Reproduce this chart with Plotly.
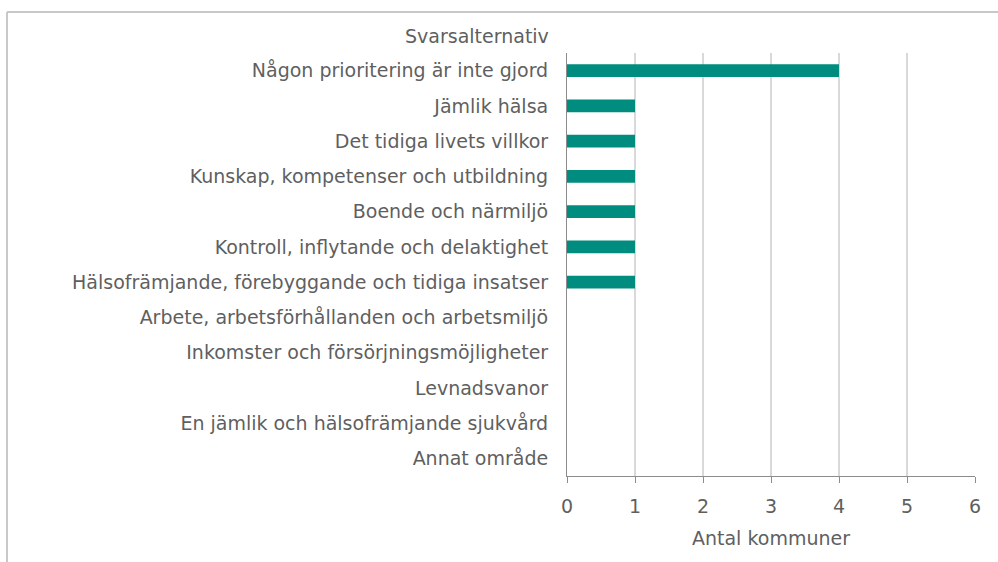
import plotly.graph_objects as go

categories = [
    "Någon prioritering är inte gjord",
    "Jämlik hälsa",
    "Det tidiga livets villkor",
    "Kunskap, kompetenser och utbildning",
    "Boende och närmiljö",
    "Kontroll, inflytande och delaktighet",
    "Hälsofrämjande, förebyggande och tidiga insatser",
    "Arbete, arbetsförhållanden och arbetsmiljö",
    "Inkomster och försörjningsmöjligheter",
    "Levnadsvanor",
    "En jämlik och hälsofrämjande sjukvård",
    "Annat område",
]
values = [4, 1, 1, 1, 1, 1, 1, 0, 0, 0, 0, 0]
x_ticks = [0, 1, 2, 3, 4, 5, 6]

FONT = "DejaVu Sans"
FS = 19
GREY = "#5f5f5f"

fig = go.Figure(go.Bar(
    x=values, y=categories, orientation="h",
    marker=dict(color="#008C7E", line=dict(width=0)),
    hoverinfo="x+y",
))

L, R, T, B = 567, 23, 53, 86
W, H = 998, 562
pw = W - L - R
ph = H - T - B

fig.update_layout(
    width=W, height=H,
    margin=dict(l=L, r=R, t=T, b=B, autoexpand=False),
    plot_bgcolor="white", paper_bgcolor="white",
    bargap=0.64,
    showlegend=False,
    font=dict(family=FONT, size=FS, color=GREY),
    xaxis=dict(
        range=[0, 6], tickvals=x_ticks, ticktext=[str(v) for v in x_ticks],
        showgrid=True, gridcolor="#d9d9d9", gridwidth=1.5,
        zeroline=False,
        showline=True, linecolor="#8c8c8c", linewidth=1,
        ticks="outside", ticklen=6, tickcolor="#8c8c8c",
        ticklabelstandoff=7,
        tickfont=dict(size=FS, color=GREY),
        title=dict(text="Antal kommuner", font=dict(size=FS, color=GREY), standoff=15),
        fixedrange=True,
    ),
    yaxis=dict(
        categoryorder="array", categoryarray=categories[::-1],
        autorange=False, range=[-0.5, len(categories) - 0.5],
        showgrid=False, zeroline=False,
        showline=True, linecolor="#8c8c8c", linewidth=1,
        ticks="", ticklabelstandoff=14,
        tickfont=dict(size=FS, color=GREY),
        fixedrange=True,
    ),
    annotations=[dict(
        text="Svarsalternativ", xref="paper", yref="paper",
        x=(551 - L) / pw, y=(H - B - 36) / ph,
        xanchor="right", yanchor="middle", showarrow=False,
        font=dict(size=FS, color=GREY),
    )],
    shapes=[
        dict(type="line", xref="paper", yref="paper",
             x0=(7 - L) / pw, x1=(W + 5 - L) / pw,
             y0=(H - B - 12) / ph, y1=(H - B - 12) / ph,
             line=dict(color="#c8c8c8", width=2)),
        dict(type="line", xref="paper", yref="paper",
             x0=(7 - L) / pw, x1=(7 - L) / pw,
             y0=(H - B - 12) / ph, y1=(H - B - H - 5) / ph,
             line=dict(color="#c8c8c8", width=2)),
    ],
)

fig.write_html(
    "out.html",
    config={"displayModeBar": False},
    post_script="document.body.style.margin='0px';document.body.style.overflow='hidden';",
)
